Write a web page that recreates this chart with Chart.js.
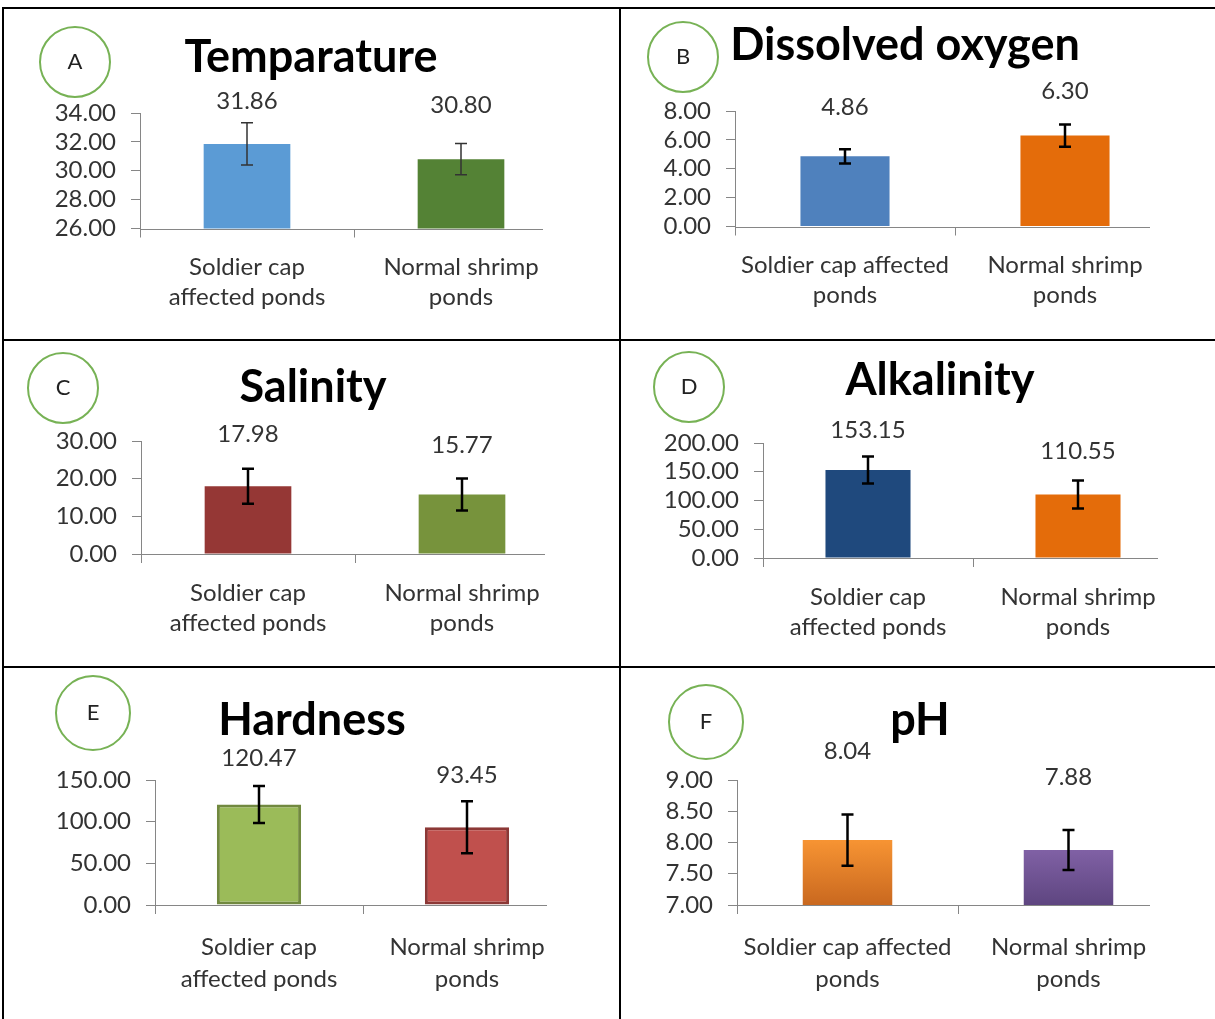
<!DOCTYPE html>
<html>
<head>
<meta charset="utf-8">
<script src="https://cdn.jsdelivr.net/npm/chart.js@4.4.1/dist/chart.umd.min.js"></script>
<style>
  html, body { margin: 0; padding: 0; background: #fff; }
  #page { position: relative; width: 1215px; height: 1019px; overflow: hidden; background: #fff; }
  .panel { position: absolute; }
  .rule { position: absolute; background: #000; }
</style>
</head>
<body>
<div id="page">
  <div class="rule" style="left:2px; top:7px; width:1213px; height:2px"></div>
  <div class="rule" style="left:2px; top:7px; width:2px; height:1012px"></div>
  <div class="rule" style="left:619px; top:7px; width:2px; height:1012px"></div>
  <div class="rule" style="left:2px; top:339px; width:1213px; height:2px"></div>
  <div class="rule" style="left:2px; top:666px; width:1213px; height:2px"></div>
</div>
<script>
// category labels (two wrappings used in the figure)
const catsNarrow = [['Soldier cap', 'affected ponds'], ['Normal shrimp', 'ponds']];
const catsWide = [['Soldier cap affected', 'ponds'], ['Normal shrimp', 'ponds']];

// means and error bars
const tempMeans = [31.86, 30.80];
const tempErr = [1.46, 1.08];
const tempTicks = [26, 28, 30, 32, 34];

const oxygenMeans = [4.86, 6.30];
const oxygenErr = [0.49, 0.77];
const oxygenTicks = [0, 2, 4, 6, 8];

const salinityMeans = [17.98, 15.77];
const salinityErr = [4.65, 4.25];
const salinityTicks = [0, 10, 20, 30];

const alkalinityMeans = [153.15, 110.55];
const alkalinityErr = [23.5, 24.3];
const alkalinityTicks = [0, 50, 100, 150, 200];

const hardnessMeans = [120.47, 93.45];
const hardnessErr = [22.2, 31.2];
const hardnessTicks = [0, 50, 100, 150];

const phMeans = [8.04, 7.88];
const phErr = [0.41, 0.32];
const phTicks = [7, 7.5, 8, 8.5, 9];

const FONT = 'Lato, "Open Sans", sans-serif';
const AXIS = '#868686';
const TEXT = '#333';

// layout for each panel, page pixels
// plot = [left, top, right of category span, bottom]; axisEnd = where the drawn x axis line stops
const panels = [
    { tag: 'A', title: 'Temparature', means: tempMeans, errs: tempErr, ticks: tempTicks, cats: catsNarrow,
      fill: ['#5B9BD5', '#548235'], cell: [4, 9, 615, 330], plot: [140, 113, 568, 228.5], axisEnd: 543,
      circle: [75, 62, 35], titleAt: [311, 57], lift: [-22, -38], errWidth: 1.5, errColor: '#333', lineH: 30 },
    { tag: 'B', title: 'Dissolved oxygen', means: oxygenMeans, errs: oxygenErr, ticks: oxygenTicks, cats: catsWide,
      fill: ['#4F81BD', '#E46C0A'], cell: [621, 9, 594, 330], plot: [735, 111, 1175, 226.5], axisEnd: 1150,
      circle: [683, 57, 35], titleAt: [905, 45], lift: [-42, -33], errWidth: 2.5, errColor: '#000', lineH: 30 },
    { tag: 'C', title: 'Salinity', means: salinityMeans, errs: salinityErr, ticks: salinityTicks, cats: catsNarrow,
      fill: ['#953735', '#77933C'], cell: [4, 341, 615, 325], plot: [141, 441, 569, 554], axisEnd: 545,
      circle: [63, 388, 35], titleAt: [313, 387], lift: [-34, -33], errWidth: 2.5, errColor: '#000', lineH: 30 },
    { tag: 'D', title: 'Alkalinity', means: alkalinityMeans, errs: alkalinityErr, ticks: alkalinityTicks, cats: catsNarrow,
      fill: ['#1F497D', '#E46C0A'], cell: [621, 341, 594, 325], plot: [763, 443, 1183, 558], axisEnd: 1158,
      circle: [689, 387, 35], titleAt: [940, 380], lift: [-26, -29], errWidth: 2.5, errColor: '#000', lineH: 30 },
    { tag: 'E', title: 'Hardness', means: hardnessMeans, errs: hardnessErr, ticks: hardnessTicks, cats: catsNarrow,
      fill: ['#9BBB59', '#C0504D'], border: ['#71893F', '#8C3836'], cell: [4, 668, 615, 351], plot: [155, 780, 571, 905], axisEnd: 547,
      circle: [93, 713, 37], titleAt: [312, 720], lift: [-28, -26], errWidth: 2.5, errColor: '#000', lineH: 32 },
    { tag: 'F', title: 'pH', means: phMeans, errs: phErr, ticks: phTicks, cats: catsWide,
      fill: ['#F79433', '#8061A5'], fillEnd: ['#C9681F', '#5E4580'], cell: [621, 668, 594, 351], plot: [737, 780, 1179, 905], axisEnd: 1150,
      circle: [706, 722, 37], titleAt: [920, 720], lift: [-63, -53], errWidth: 2.5, errColor: '#000', lineH: 32 }
];

const page = document.getElementById('page');

function buildPanel(p) {
    const [cx, cy, cw, ch] = p.cell;
    const [pl, pt, pr, pb] = p.plot;
    const yW = 100, xH = 90;

    const wrap = document.createElement('div');
    wrap.className = 'panel';
    wrap.style.left = cx + 'px';
    wrap.style.top = cy + 'px';
    wrap.style.width = cw + 'px';
    wrap.style.height = ch + 'px';
    const canvas = document.createElement('canvas');
    wrap.appendChild(canvas);
    page.appendChild(wrap);

    const decor = {
        id: 'decor' + p.tag,
        beforeDatasetsDraw(chart) {
            // x axis line, shorter than the category span as in the figure
            const ctx = chart.ctx;
            const a = chart.chartArea;
            const yb = Math.round(a.bottom) + 0.5;
            ctx.save();
            ctx.strokeStyle = AXIS;
            ctx.lineWidth = 1;
            ctx.beginPath();
            ctx.moveTo(a.left, yb);
            ctx.lineTo(p.axisEnd - cx, yb);
            ctx.stroke();
            ctx.restore();
        },
        afterDatasetsDraw(chart) {
            const ctx = chart.ctx;
            const y = chart.scales.y;
            const bars = chart.getDatasetMeta(0).data;
            ctx.save();
            bars.forEach((bar, i) => {
                const v = p.means[i], e = p.errs[i];
                const top = y.getPixelForValue(v + e);
                const bot = y.getPixelForValue(v - e);
                ctx.strokeStyle = p.errColor;
                ctx.lineWidth = p.errWidth;
                ctx.beginPath();
                ctx.moveTo(bar.x, top); ctx.lineTo(bar.x, bot);
                ctx.moveTo(bar.x - 6, top); ctx.lineTo(bar.x + 6, top);
                ctx.moveTo(bar.x - 6, bot); ctx.lineTo(bar.x + 6, bot);
                ctx.stroke();

                ctx.fillStyle = TEXT;
                ctx.font = '24px ' + FONT;
                ctx.textAlign = 'center';
                ctx.textBaseline = 'middle';
                ctx.fillText(v.toFixed(2), bar.x, top + p.lift[i]);
            });
            ctx.restore();
        },
        afterDraw(chart) {
            const ctx = chart.ctx;
            const [ox, oy, r] = p.circle;
            ctx.save();
            ctx.strokeStyle = '#77B255';
            ctx.lineWidth = 2;
            ctx.beginPath();
            ctx.arc(ox - cx, oy - cy, r, 0, Math.PI * 2);
            ctx.stroke();
            ctx.fillStyle = '#222';
            ctx.font = '22px ' + FONT;
            ctx.textAlign = 'center';
            ctx.textBaseline = 'middle';
            ctx.fillText(p.tag, ox - cx, oy - cy);

            ctx.fillStyle = '#000';
            ctx.font = 'bold 45px ' + FONT;
            ctx.fillText(p.title, p.titleAt[0] - cx, p.titleAt[1] - cy);
            ctx.restore();
        }
    };

    const background = (c) => {
        const i = c.dataIndex;
        if (!p.fillEnd) return p.fill[i];
        const area = c.chart.chartArea;
        if (!area || !c.chart.scales.y) return p.fill[i];
        const top = c.chart.scales.y.getPixelForValue(p.means[i]);
        const g = c.chart.ctx.createLinearGradient(0, top, 0, area.bottom);
        g.addColorStop(0, p.fill[i]);
        g.addColorStop(1, p.fillEnd[i]);
        return g;
    };

    new Chart(canvas, {
        type: 'bar',
        data: {
            labels: p.cats,
            datasets: [{
                data: p.means,
                backgroundColor: background,
                borderColor: p.border || 'rgba(0,0,0,0)',
                borderWidth: p.border ? 3 : 0,
                borderSkipped: false,
                barPercentage: 0.405,
                categoryPercentage: 1
            }]
        },
        options: {
            responsive: true,
            maintainAspectRatio: false,
            animation: false,
            events: [],
            layout: {
                padding: {
                    left: pl - cx - yW,
                    right: cx + cw - pr,
                    top: pt - cy,
                    bottom: cy + ch - pb - xH
                }
            },
            plugins: {
                legend: { display: false },
                tooltip: { enabled: false },
                title: { display: false }
            },
            scales: {
                x: {
                    grid: {
                        offset: true,
                        drawOnChartArea: false,
                        drawTicks: true,
                        tickLength: 9,
                        color: AXIS,
                        // no tick mark at the far end of the category span
                        tickColor: (c) => (c.type === 'tick' && c.index < p.cats.length) ? AXIS : 'rgba(0,0,0,0)'
                    },
                    border: { display: false },
                    ticks: {
                        color: TEXT,
                        font: { family: FONT, size: 24, lineHeight: p.lineH / 24 },
                        padding: p.lineH === 30 ? 15 : 17,
                        maxRotation: 0,
                        autoSkip: false
                    },
                    afterFit: (s) => { s.height = xH; }
                },
                y: {
                    min: p.ticks[0],
                    max: p.ticks[p.ticks.length - 1],
                    grid: {
                        drawOnChartArea: false,
                        drawTicks: true,
                        tickLength: 9,
                        color: AXIS,
                        tickColor: AXIS
                    },
                    border: { color: AXIS, width: 1 },
                    ticks: {
                        stepSize: p.ticks[1] - p.ticks[0],
                        autoSkip: false,
                        color: TEXT,
                        font: { family: FONT, size: 24, lineHeight: 1 },
                        padding: 15,
                        callback: (v) => Number(v).toFixed(2)
                    },
                    afterFit: (s) => { s.width = yW; }
                }
            }
        },
        plugins: [decor]
    });
}

panels.forEach(buildPanel);
</script>
</body>
</html>
